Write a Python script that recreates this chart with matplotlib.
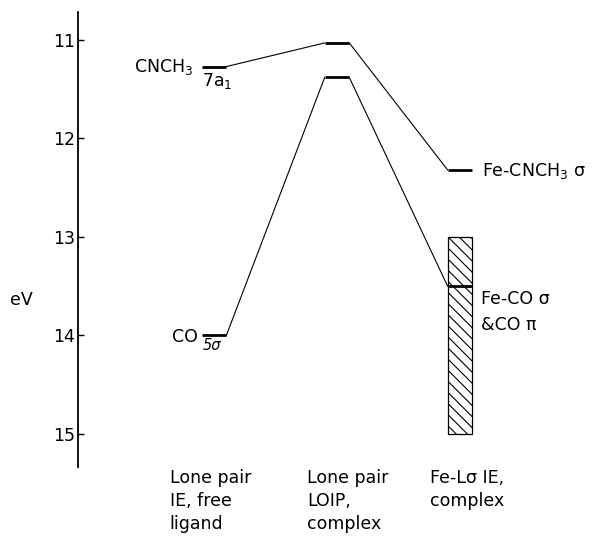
import numpy as np
import matplotlib
matplotlib.use("Agg")
import matplotlib.pyplot as plt
import matplotlib.transforms as mtransforms
from matplotlib.patches import Rectangle

plt.rcParams['font.family'] = ['DejaVu Sans']
plt.rcParams['mathtext.default'] = 'regular'
plt.rcParams['hatch.linewidth'] = 0.8

# energy levels (eV) per column: free ligand, LOIP complex, Fe-L sigma
columns = [0, 1, 2]
cnch3_levels = [11.27, 11.03, 12.32]
co_levels = [14.00, 11.38, 13.50]
band_range = (13.0, 15.0)  # Fe-CO sigma & CO pi band
yticks = [11, 12, 13, 14, 15]
col_labels = ["Lone pair\nIE, free\nligand", "Lone pair\nLOIP,\ncomplex", "Fe-L\u03c3 IE,\ncomplex"]

half = 0.10

fig = plt.figure(figsize=(5.94, 5.37), dpi=100)
ax = fig.add_axes([78 / 594, 70 / 537, 516 / 594, 455 / 537])
ax.set_xlim(-1.106, 3.09)
ax.set_ylim(15.335, 10.716)

for s in ['top', 'right', 'bottom']:
    ax.spines[s].set_visible(False)
ax.spines['left'].set_linewidth(1.3)
ax.set_xticks([])
ax.set_yticks(yticks)
ax.tick_params(axis='y', direction='in', length=4, width=1, labelsize=12.5, pad=2)

# hatched band
ax.add_patch(Rectangle((columns[2] - half, band_range[0]), 2 * half,
                       band_range[1] - band_range[0], facecolor='white',
                       edgecolor='black', hatch='\\\\\\', linewidth=0.9, zorder=1))

for levels in (cnch3_levels, co_levels):
    for x, y in zip(columns, levels):
        ax.plot([x - half, x + half], [y, y], color='black', lw=2.0,
                solid_capstyle='butt', zorder=3)
    for i in range(len(columns) - 1):
        ax.plot([columns[i] + half, columns[i + 1] - half],
                [levels[i], levels[i + 1]], color='black', lw=0.8, zorder=2)

fs = 12.5
ax.annotate("CNCH$_3$", (columns[0] - half, cnch3_levels[0]), xytext=(-6, 0),
            textcoords='offset points', ha='right', va='center', fontsize=fs)
ax.annotate("7a$_1$", (columns[0] - half, cnch3_levels[0]), xytext=(0, -3),
            textcoords='offset points', ha='left', va='top', fontsize=fs)
ax.annotate("CO", (columns[0] - half, co_levels[0]), xytext=(-3, -1),
            textcoords='offset points', ha='right', va='center', fontsize=fs)
ax.annotate("5\u03c3", (columns[0] - half, co_levels[0]), xytext=(1, -2),
            textcoords='offset points', ha='left', va='top', fontsize=10.5,
            style='italic')
ax.annotate("Fe-CNCH$_3$ \u03c3", (columns[2] + half, cnch3_levels[2]),
            xytext=(7, -1), textcoords='offset points', ha='left', va='center',
            fontsize=fs)
ax.annotate("Fe-CO \u03c3\n&CO \u03c0", (columns[2] + half, co_levels[2]),
            xytext=(6, -3), textcoords='offset points', ha='left', va='top',
            fontsize=fs, linespacing=1.55)

trans = mtransforms.blended_transform_factory(ax.transData, ax.transAxes)
offsets = [-0.36, -0.24, -0.24]
for x, off, lab in zip(columns, offsets, col_labels):
    ax.text(x + off, -0.005, lab, transform=trans, ha='left', va='top',
            fontsize=fs, linespacing=1.36)

fig.text(10 / 594, 1 - 300 / 537, "eV", ha='left', va='center', fontsize=fs)

fig.savefig("out.png", dpi=100)
